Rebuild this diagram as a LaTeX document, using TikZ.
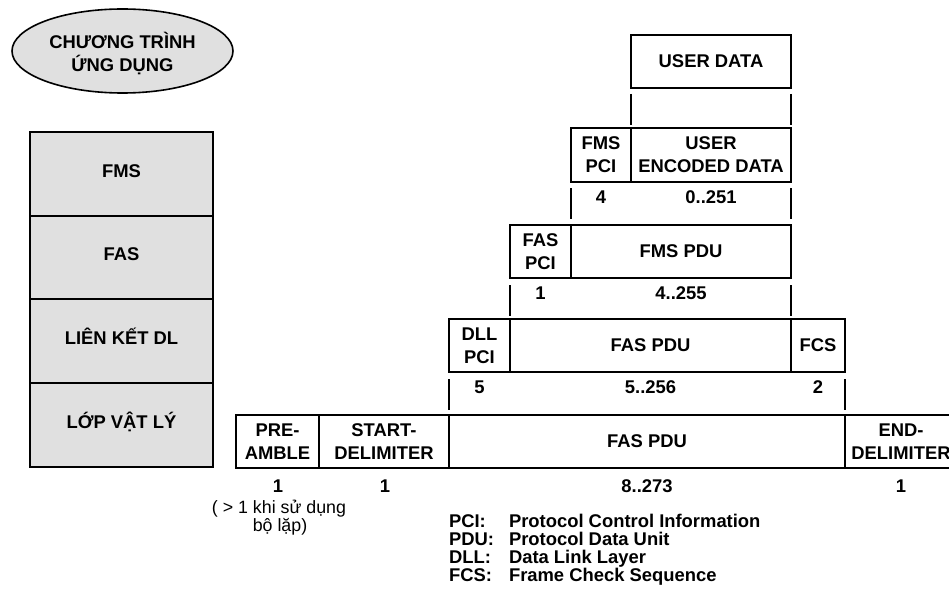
\documentclass[tikz,border=0pt]{standalone}
\usepackage{fontspec}
\setmainfont{Liberation Sans}
\usetikzlibrary{shapes.geometric}
\definecolor{layergray}{RGB}{224,224,224}
\begin{document}
\begin{tikzpicture}[x=1pt,y=-1pt,
  every node/.style={inner sep=0pt, outer sep=0pt},
  bf/.style={font=\fontsize{18.4}{22.7}\selectfont\bfseries},
  pbox/.style={bf, draw, line width=1.8pt, align=center, minimum height=53pt},
  layer/.style={bf, draw, line width=1.7pt, fill=layergray, minimum width=183pt, minimum height=84pt, text height=13.2pt, text depth=7pt},
  tick/.style={line width=1.8pt},
  lbl/.style={bf, anchor=base},
  note/.style={font=\fontsize{17.8}{18}\selectfont, anchor=base},
  leg/.style={bf, anchor=base west}]
\useasboundingbox (0,0) rectangle (949,591);
\clip (0,0) rectangle (949,591);

% application ellipse
\node[ellipse, draw, line width=1.6pt, fill=layergray, minimum width=221pt, minimum height=84pt] (app) at (122.5,51) {};
\node[bf, align=center] (apptext) at (122.5,53.5) {CHƯƠNG TRÌNH\\ỨNG DỤNG};

% layer stack
\node[layer] (fms) at (121.5,174) {FMS};
\node[layer, minimum height=83pt] (fas) at (121.5,257.5) {FAS};
\node[layer] (dl) at (121.5,341) {LIÊN KẾT DL};
\node[layer] (phy) at (121.5,425) {LỚP VẬT LÝ};

% PDU boxes
\node[pbox, minimum width=160pt] (ud) at (711,61.5) {USER DATA};
\node[pbox, minimum width=60pt, minimum height=54pt] (fmspci) at (601,155) {FMS\\PCI};
\node[pbox, minimum width=160pt, minimum height=54pt] (ued) at (711,155) {USER\\ENCODED DATA};

\node[pbox, minimum width=61pt] (faspci) at (540.5,251.5) {FAS\\PCI};
\node[pbox, minimum width=220pt] (fmspdu) at (681,251.5) {FMS PDU};

\node[pbox, minimum width=61pt] (dllpci) at (479.5,345.5) {DLL\\PCI};
\node[pbox, minimum width=281pt] (faspdu) at (650.5,345.5) {FAS PDU};
\node[pbox, minimum width=54pt] (fcs) at (818,345.5) {FCS};

\node[pbox, minimum width=83pt] (pre) at (277.5,441.5) {PRE-\\AMBLE};
\node[pbox, minimum width=130pt] (sd) at (384,441.5) {START-\\DELIMITER};
\node[pbox, minimum width=396pt] (frame) at (647,441.5) {FAS PDU};
\node[pbox, minimum width=112pt] (ed) at (901,441.5) {END-\\DELIMITER};

% bracket lines
\draw[tick] ([yshift=-6pt]ud.south west) -- ([yshift=3pt]ued.north west);
\draw[tick] ([yshift=-6pt]ud.south east) -- ([yshift=3pt]ued.north east);
\draw[tick] ([yshift=-6pt]fmspci.south west) -- ([yshift=6pt]faspci.north east);
\draw[tick] ([yshift=-6pt]ued.south east) -- ([yshift=6pt]fmspdu.north east);
\draw[tick] ([yshift=-7pt]faspci.south west) -- ([yshift=3pt]dllpci.north east);
\draw[tick] ([yshift=-7pt]fmspdu.south east) -- ([yshift=3pt]faspdu.north east);
\draw[tick] ([yshift=-7pt]dllpci.south west) -- ([yshift=5pt]frame.north west);
\draw[tick] ([yshift=-7pt]fcs.south east) -- ([yshift=5pt]frame.north east);

% size labels
\node[lbl] (n4) at (601,203) {4};
\node[lbl] (n0251) at (711,203) {0..251};
\node[lbl] (n1a) at (540.5,299.5) {1};
\node[lbl] (n4255) at (681,299.5) {4..255};
\node[lbl] (n5) at (479.5,393) {5};
\node[lbl] (n5256) at (650.5,393) {5..256};
\node[lbl] (n2) at (818,393) {2};
\node[lbl] (n1b) at (278,492) {1};
\node[lbl] (n1c) at (385,492) {1};
\node[lbl] (n8273) at (647,492) {8..273};
\node[lbl] (n1d) at (901,492) {1};

\node[note] (note1) at (279,513) {( > 1 khi sử dụng};
\node[note] (note2) at (280,531) {bộ lặp)};

% legend
\node[leg] (k1) at (449,527) {PCI:};
\node[leg] (v1) at (509,527) {Protocol Control Information};
\node[leg] (k2) at (449,545) {PDU:};
\node[leg] (v2) at (509,545) {Protocol Data Unit};
\node[leg] (k3) at (449,563) {DLL:};
\node[leg] (v3) at (509,563) {Data Link Layer};
\node[leg] (k4) at (449,581) {FCS:};
\node[leg] (v4) at (509,581) {Frame Check Sequence};
\end{tikzpicture}
\end{document}
